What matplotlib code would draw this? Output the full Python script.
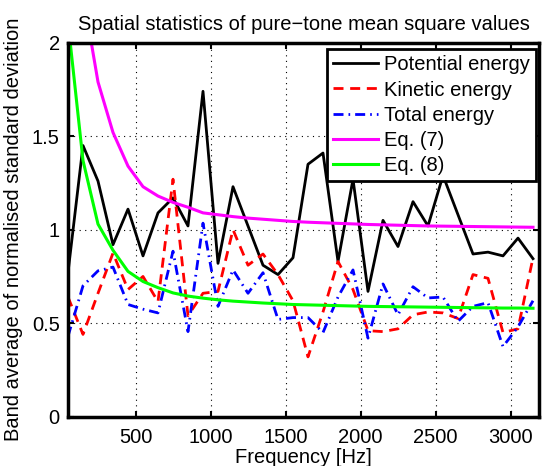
import matplotlib
matplotlib.use("Agg")
import matplotlib.pyplot as plt
import numpy as np

plt.rcParams['font.family'] = ['Liberation Sans', 'DejaVu Sans']

freq = [50, 150, 250, 350, 450, 550, 650, 750, 850, 950, 1050, 1150, 1250, 1350,
        1450, 1550, 1650, 1750, 1850, 1950, 2050, 2150, 2250, 2350, 2450, 2550,
        2650, 2750, 2850, 2950, 3050, 3150]

potential = [0.77, 1.45, 1.26, 0.92, 1.11, 0.86, 1.09, 1.17, 1.02, 1.74, 0.82, 1.23,
             1.02, 0.81, 0.76, 0.85, 1.35, 1.41, 0.83, 1.27, 0.67, 1.05, 0.91, 1.15,
             1.02, 1.29, 1.08, 0.87, 0.88, 0.86, 0.955, 0.845]

kinetic = [0.64, 0.44, 0.66, 0.875, 0.68, 0.75, 0.615, 1.27, 0.54, 0.66, 0.67, 1.0,
           0.81, 0.87, 0.76, 0.62, 0.32, 0.56, 0.83, 0.68, 0.46, 0.455, 0.47, 0.545,
           0.56, 0.555, 0.525, 0.76, 0.74, 0.45, 0.47, 0.85]

total = [0.43, 0.70, 0.78, 0.80, 0.60, 0.575, 0.555, 0.885, 0.455, 1.035, 0.59, 0.785,
         0.66, 0.77, 0.52, 0.53, 0.53, 0.45, 0.64, 0.785, 0.42, 0.71, 0.545, 0.695,
         0.635, 0.64, 0.51, 0.59, 0.61, 0.375, 0.48, 0.62]

eq7 = [4.0, 2.26, 1.79, 1.52, 1.34, 1.23, 1.18, 1.146, 1.12, 1.09, 1.08, 1.07,
       1.062, 1.056, 1.05, 1.044, 1.04, 1.037, 1.034, 1.031, 1.028, 1.026, 1.024,
       1.022, 1.02, 1.019, 1.018, 1.017, 1.016, 1.015, 1.014, 1.013]

eq8 = [2.11, 1.37, 1.03, 0.89, 0.777, 0.723, 0.69, 0.662, 0.645, 0.634, 0.625, 0.618,
       0.613, 0.608, 0.604, 0.600, 0.598, 0.596, 0.594, 0.592, 0.590, 0.589, 0.588,
       0.587, 0.586, 0.585, 0.584, 0.583, 0.582, 0.581, 0.581, 0.580]

xticks = [500, 1000, 1500, 2000, 2500, 3000]
yticks = [0, 0.5, 1, 1.5, 2]
yticklabels = ['0', '0.5', '1', '1.5', '2']

FS = 14.5

fig = plt.figure(figsize=(5.42, 4.66), dpi=100)
ax = fig.add_axes([68/542, 1-416.7/466, 471/542, 374/466])

ax.plot(freq, potential, color='black', lw=2, ls='-', label='Potential energy')
ax.plot(freq, kinetic, color='#ff0000', lw=2, ls=(0, (3.6, 2.4)), label='Kinetic energy')
ax.plot(freq, total, color='#0000ff', lw=2, ls=(0, (3.6, 1.8, 0.6, 1.8)), label='Total energy')
ax.plot(freq, eq7, color='#ff00ff', lw=2.2, ls='-', label='Eq. (7)')
ax.plot(freq, eq8, color='#00ff00', lw=2.2, ls='-', label='Eq. (8)')

ax.set_xlim(50, 3190)
ax.set_ylim(0, 2)
ax.set_xticks(xticks)
ax.set_xticklabels([str(t) for t in xticks])
ax.set_yticks(yticks)
ax.set_yticklabels(yticklabels)

ax.grid(True, color='black', ls=(0, (1, 4)), lw=0.8)
ax.tick_params(direction='in', length=4, width=1.5, top=True, right=True,
               labelsize=FS)
ax.tick_params(axis='x', pad=8)
ax.tick_params(axis='y', pad=6)
for s in ax.spines.values():
    s.set_linewidth(2.5)

ax.set_title('Spatial statistics of pure\u2212tone mean square values', fontsize=FS, pad=9)
ax.set_xlabel('Frequency [Hz]', fontsize=FS, labelpad=1)
ax.set_ylabel('Band average of normalised standard deviation', fontsize=FS, labelpad=6)

leg = ax.legend(loc='upper right', bbox_to_anchor=(0.993, 0.982), borderaxespad=0,
                fontsize=FS, fancybox=False, framealpha=1, edgecolor='black',
                handlelength=2.2, handletextpad=0.3, labelspacing=0.3,
                borderpad=0.3)
leg.get_frame().set_linewidth(2)

fig.savefig('out.png', dpi=100)
